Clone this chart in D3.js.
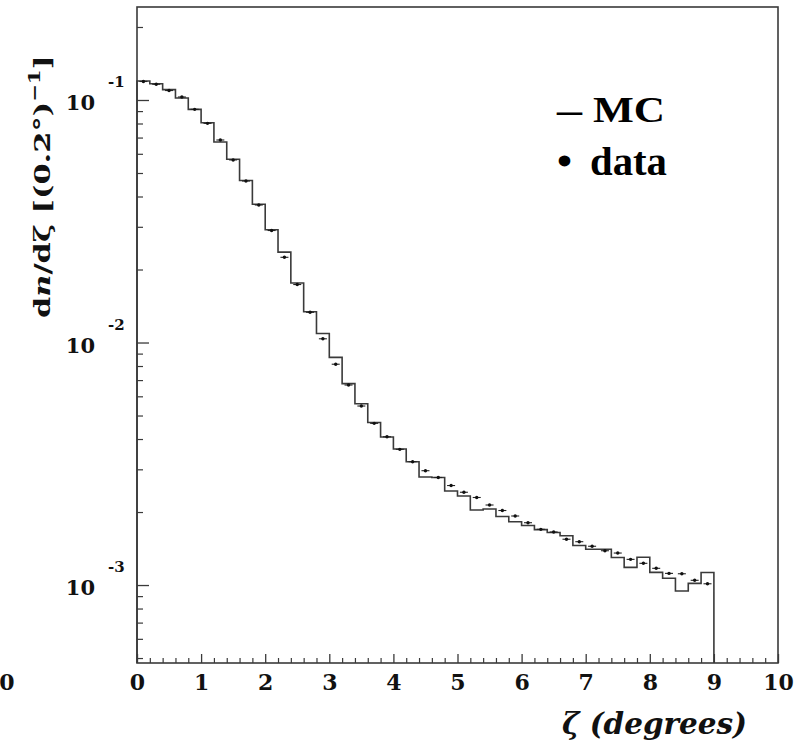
<!DOCTYPE html>
<html>
<head>
<meta charset="utf-8">
<script src="https://cdn.jsdelivr.net/npm/d3@7/dist/d3.min.js"></script>
<style>
  html, body { margin: 0; padding: 0; background: #fff; }
  svg { display: block; }
</style>
</head>
<body>
<svg id="chart" width="803" height="744"></svg>
<script>
// ---------------- data ----------------
const binWidth = 0.2;          // degrees per bin
const binStart = 0;
const mcValues = [
  0.1198, 0.1167, 0.1103, 0.1019, 0.0915, 0.0806, 0.0671, 0.0570, 0.04656, 0.03718,
  0.02918, 0.02358, 0.01759, 0.01340, 0.01089, 0.008687, 0.006768, 0.005593, 0.004677, 0.004076,
  0.003637, 0.003225, 0.002789, 0.002776, 0.002441, 0.002328, 0.002039, 0.002058, 0.001917, 0.001824,
  0.001759, 0.001693, 0.001647, 0.001597, 0.001455, 0.001405, 0.001405, 0.001298, 0.001183, 0.001301,
  0.001128, 0.001066, 0.000945, 0.001016, 0.001126
];
const dataValues = [
  0.1192, 0.1161, 0.1094, 0.1029, 0.0915, 0.0801, 0.0684, 0.0566, 0.04634, 0.03690,
  0.02896, 0.02246, 0.01734, 0.01332, 0.01036, 0.008138, 0.006679, 0.005472, 0.004642, 0.004087,
  0.003627, 0.003225, 0.002961, 0.002776, 0.002572, 0.002413, 0.002296, 0.002138, 0.002029, 0.001926,
  0.001807, 0.001697, 0.001655, 0.001545, 0.001509, 0.001445, 0.001385, 0.001355, 0.001276, 0.001229,
  0.001172, 0.001117, 0.001113, 0.001046, 0.001012
];
const xDomain = [0, 10];
const yDomain = [0.000477, 0.2418];
const xMajorTicks = [0, 1, 2, 3, 4, 5, 6, 7, 8, 9, 10];
const xTickLabels = ["0", "1", "2", "3", "4", "5", "6", "7", "8", "9", "10"];
const yMajorExponents = [-1, -2, -3];
const legendSymbols = ["\u2013", "\u2022"];
const legendLabels = ["MC", "data"];

// ---------------- layout ----------------
const svg = d3.select("#chart");
const L = 137, R = 778, T = 7, B = 663;
const x = d3.scaleLinear().domain(xDomain).range([L, R]);
const y = d3.scaleLog().domain(yDomain).range([B, T]);
const ink = "#3a3a3a";
const cmFont = "'DejaVu Serif', serif";
const timesFont = "'Liberation Serif', 'Times New Roman', serif";

// ---------------- axes / ticks ----------------
const xMinor = d3.range(0, 50).map(i => i * 0.2).filter(v => Math.abs(v - Math.round(v)) > 1e-6);
svg.append("g").attr("transform", `translate(0,${B})`)
  .call(d3.axisBottom(x).tickValues(xMinor).tickSize(-5).tickFormat(""))
  .call(g => g.select(".domain").remove())
  .selectAll("line").attr("stroke", ink).attr("stroke-width", 1.2);
const xAx = svg.append("g").attr("transform", `translate(0,${B})`)
  .call(d3.axisBottom(x).tickValues(xMajorTicks).tickSize(-9).tickPadding(27)
        .tickFormat((d, i) => xTickLabels[i]))
  .call(g => g.select(".domain").remove());
xAx.selectAll("line").attr("stroke", ink).attr("stroke-width", 1.3);
xAx.selectAll("text").attr("font-family", cmFont).attr("font-weight", "bold")
  .attr("font-size", 22).attr("fill", "#111").attr("dy", 0);

// y minor ticks
const yMinor = [];
for (let e = -4; e <= -1; e++) for (let m = 2; m <= 9; m++) {
  const v = m * Math.pow(10, e);
  if (v > yDomain[0] && v < yDomain[1]) yMinor.push(v);
}
svg.append("g").attr("transform", `translate(${L},0)`)
  .call(d3.axisLeft(y).tickValues(yMinor).tickSize(-6).tickFormat(""))
  .call(g => g.select(".domain").remove())
  .selectAll("line").attr("stroke", ink).attr("stroke-width", 1.2);
const yMajor = yMajorExponents.map(e => Math.pow(10, e));
svg.append("g").attr("transform", `translate(${L},0)`)
  .call(d3.axisLeft(y).tickValues(yMajor).tickSize(-12).tickFormat(""))
  .call(g => g.select(".domain").remove())
  .selectAll("line").attr("stroke", ink).attr("stroke-width", 1.3);

// y tick labels 10^e
yMajorExponents.forEach(e => {
  const yy = y(Math.pow(10, e));
  svg.append("text").attr("x", 95).attr("y", yy + 10).attr("text-anchor", "end")
    .attr("font-family", cmFont).attr("font-weight", "bold").attr("font-size", 21)
    .attr("fill", "#111").text("10");
  svg.append("text").attr("x", 108).attr("y", yy - 13)
    .attr("font-family", cmFont).attr("font-weight", "bold").attr("font-size", 15)
    .attr("fill", "#111").text(String(e));
});

// stray label at far left
svg.append("text").attr("x", 7).attr("y", 690).attr("text-anchor", "middle")
  .attr("font-family", cmFont).attr("font-weight", "bold").attr("font-size", 22)
  .attr("fill", "#111").text("0");

// frame
svg.append("rect").attr("x", L).attr("y", T).attr("width", R - L).attr("height", B - T)
  .attr("fill", "none").attr("stroke", ink).attr("stroke-width", 1.6);

// ---------------- MC histogram ----------------
const edges = mcValues.map((_, i) => binStart + i * binWidth);
let p = `M${x(edges[0])},${B}`;
mcValues.forEach((v, i) => {
  p += `V${y(v)}H${x(edges[i] + binWidth)}`;
});
p += `V${B}`;
svg.append("path").attr("d", p).attr("fill", "none")
  .attr("stroke", ink).attr("stroke-width", 1.6);

// ---------------- data points ----------------
const pts = svg.append("g");
dataValues.forEach((v, i) => {
  const cx = x(edges[i] + binWidth / 2);
  pts.append("line").attr("x1", cx - 4).attr("x2", cx + 4)
    .attr("y1", y(v)).attr("y2", y(v)).attr("stroke", "#222").attr("stroke-width", 1.1);
  pts.append("circle").attr("cx", cx).attr("cy", y(v)).attr("r", 1.7).attr("fill", "#111");
});

// ---------------- titles ----------------
svg.append("text").attr("x", 747).attr("y", 734).attr("text-anchor", "end")
  .attr("font-family", cmFont).attr("font-weight", "bold").attr("font-style", "italic")
  .attr("font-size", 30).attr("fill", "#111")
  .attr("textLength", 185).attr("lengthAdjust", "spacingAndGlyphs")
  .text("\u03B6 (degrees)");

const yt = svg.append("text")
  .attr("transform", "translate(50,318) rotate(-90)")
  .attr("x", 0).attr("y", 0)
  .attr("font-family", cmFont).attr("font-weight", "bold")
  .attr("font-size", 23).attr("fill", "#111")
  .attr("textLength", 263).attr("lengthAdjust", "spacingAndGlyphs");
yt.append("tspan").text("d");
yt.append("tspan").attr("font-style", "italic").text("n");
yt.append("tspan").text("/d\u03B6 [(0.2\u00B0)");
yt.append("tspan").attr("dy", -10).attr("font-size", 16).text("\u22121");
yt.append("tspan").attr("dy", 10).text("]");

// ---------------- legend ----------------
const legendRows = [
  { sym: legendSymbols[0], label: legendLabels[0], base: 122, size: 35, symX: 557, symW: 25, labX: 593, labW: 72 },
  { sym: legendSymbols[1], label: legendLabels[1], base: 175, size: 40, symX: 557, symW: 15, labX: 590, labW: 77 }
];
legendRows.forEach(r => {
  svg.append("text").attr("x", r.symX).attr("y", r.base)
    .attr("font-family", timesFont).attr("font-weight", "bold")
    .attr("font-size", r.size).attr("fill", "#000")
    .attr("textLength", r.symW).attr("lengthAdjust", "spacingAndGlyphs")
    .text(r.sym);
  svg.append("text").attr("x", r.labX).attr("y", r.base)
    .attr("font-family", timesFont).attr("font-weight", "bold")
    .attr("font-size", r.size).attr("fill", "#000")
    .attr("textLength", r.labW).attr("lengthAdjust", "spacingAndGlyphs")
    .text(r.label);
});
</script>
</body>
</html>
